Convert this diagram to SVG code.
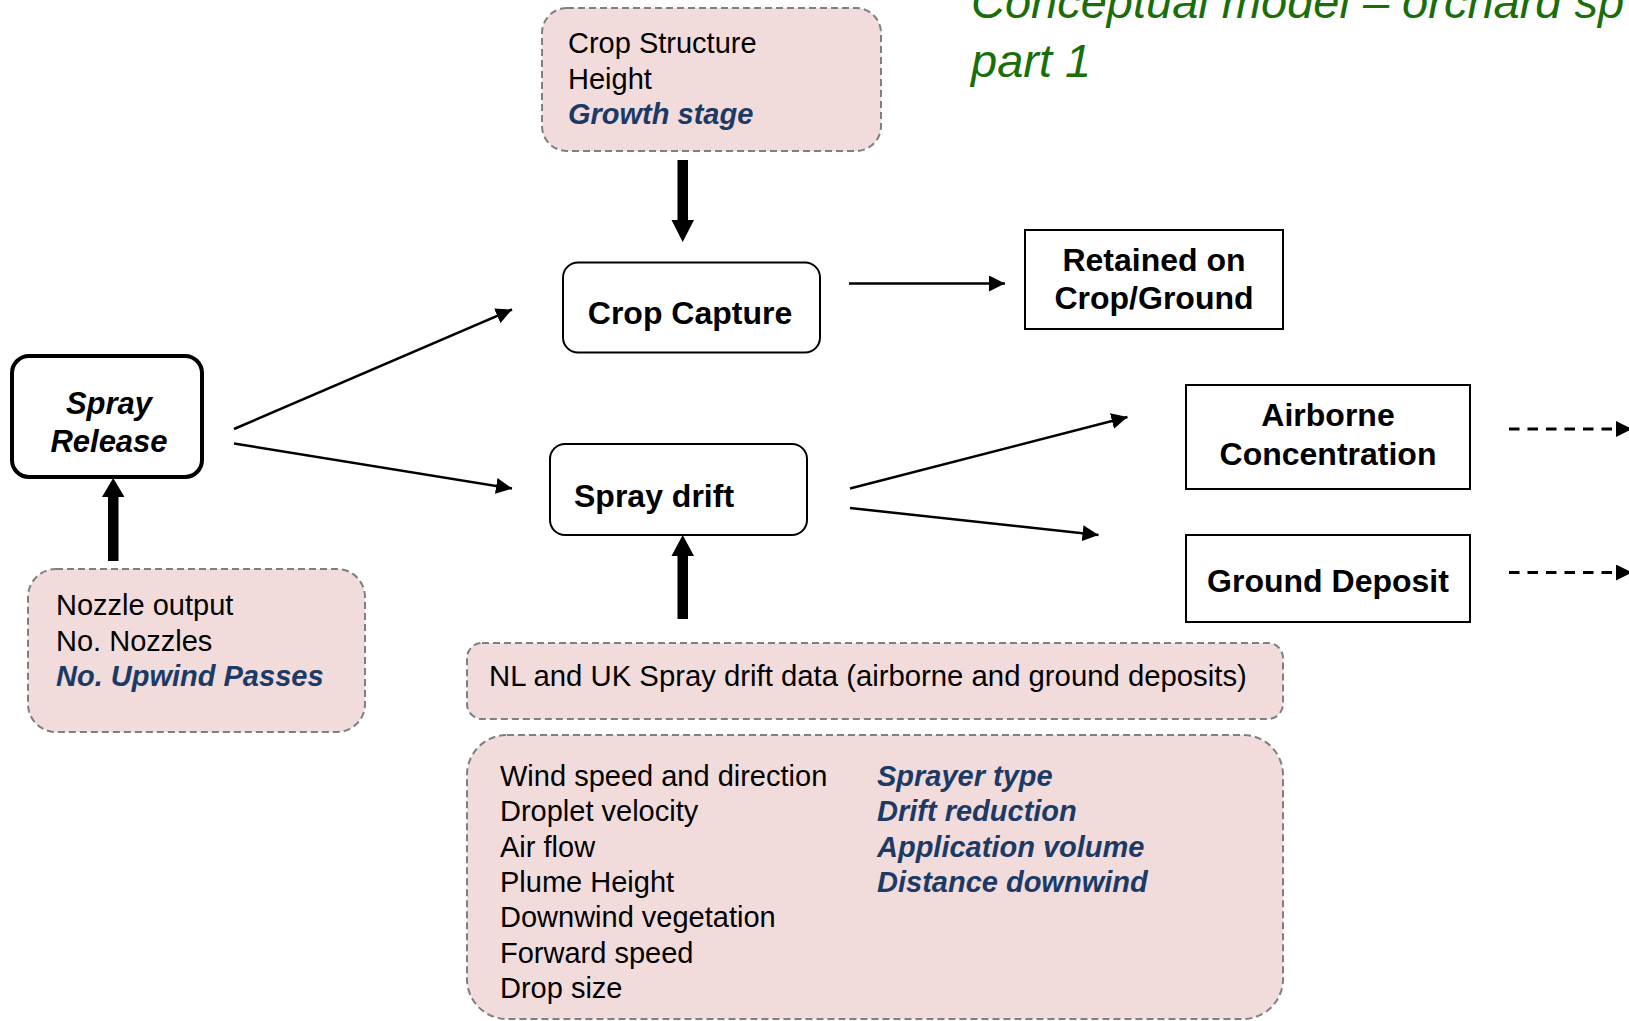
<svg xmlns="http://www.w3.org/2000/svg" width="1629" height="1021" viewBox="0 0 1629 1021">
<defs>
<style>
.t{font-family:"Liberation Sans",Arial,sans-serif;font-size:29px;fill:#000}
.bi{font-family:"Liberation Sans",Arial,sans-serif;font-size:29px;font-weight:bold;font-style:italic;fill:#1B3A66}
.nb{font-family:"Liberation Sans",Arial,sans-serif;font-size:32px;font-weight:bold;fill:#000}
.nbi{font-family:"Liberation Sans",Arial,sans-serif;font-size:31px;font-weight:bold;font-style:italic;fill:#000}
.title{font-family:"Liberation Sans",Arial,sans-serif;font-size:47px;font-style:italic;fill:#1A6E0A}
.pink{fill:#F2DCDB;stroke:#7F7F7F;stroke-width:2;stroke-dasharray:7 4}
.box{fill:#fff;stroke:#000;stroke-width:2}
.thin{stroke:#000;stroke-width:2.5;fill:none}
.dash{stroke:#000;stroke-width:3;fill:none;stroke-dasharray:10.5 8}
.thick{fill:#000}
</style>
<marker id="ah" viewBox="0 0 16 16" refX="16" refY="8" markerWidth="16" markerHeight="16" markerUnits="userSpaceOnUse" orient="auto">
<path d="M0,0 L16,8 L0,16 Z" fill="#000"/>
</marker>
</defs>
<rect width="1629" height="1021" fill="#fff"/>

<g id="title">
<text class="title" x="971" y="18">Conceptual model – orchard sp</text>
<text class="title" x="971" y="77">part 1</text>
</g>

<g id="crop-structure">
<rect class="pink" x="542" y="8" width="339" height="143" rx="25"/>
<text class="t" x="568" y="53">Crop Structure</text>
<text class="t" x="568" y="88.5">Height</text>
<text class="bi" x="568" y="124">Growth stage</text>
</g>

<g id="crop-capture">
<rect class="box" x="563" y="262.5" width="257" height="90" rx="15"/>
<text class="nb" x="690" y="324" text-anchor="middle">Crop Capture</text>
</g>

<g id="retained">
<rect class="box" x="1025" y="230" width="258" height="99"/>
<text class="nb" x="1154" y="270.5" text-anchor="middle">Retained on</text>
<text class="nb" x="1154" y="309" text-anchor="middle">Crop/Ground</text>
</g>

<g id="spray-release">
<rect x="12" y="356" width="190" height="121" rx="17" fill="#fff" stroke="#000" stroke-width="4"/>
<text class="nbi" x="109" y="413.5" text-anchor="middle">Spray</text>
<text class="nbi" x="109" y="451.5" text-anchor="middle">Release</text>
</g>

<g id="nozzle">
<rect class="pink" x="28" y="569" width="337" height="163" rx="28"/>
<text class="t" x="56" y="615">Nozzle output</text>
<text class="t" x="56" y="650.5">No. Nozzles</text>
<text class="bi" x="56" y="686">No. Upwind Passes</text>
</g>

<g id="spray-drift">
<rect class="box" x="550" y="444" width="257" height="91" rx="15"/>
<text class="nb" x="574" y="506.5">Spray drift</text>
</g>

<g id="airborne">
<rect class="box" x="1186" y="385" width="284" height="104"/>
<text class="nb" x="1328" y="425.5" text-anchor="middle">Airborne</text>
<text class="nb" x="1328" y="465" text-anchor="middle">Concentration</text>
</g>

<g id="ground-deposit">
<rect class="box" x="1186" y="535" width="284" height="87"/>
<text class="nb" x="1328" y="591.5" text-anchor="middle">Ground Deposit</text>
</g>

<g id="nl-uk-data">
<rect class="pink" x="467" y="643" width="816" height="76" rx="15"/>
<text class="t" x="489" y="686" style="font-size:29.3px">NL and UK Spray drift data (airborne and ground deposits)</text>
</g>

<g id="factors">
<rect class="pink" x="467" y="735" width="816" height="284" rx="40"/>
<text class="t" x="500" y="786">Wind speed and direction</text>
<text class="t" x="500" y="821">Droplet velocity</text>
<text class="t" x="500" y="856.5">Air flow</text>
<text class="t" x="500" y="892">Plume Height</text>
<text class="t" x="500" y="927">Downwind vegetation</text>
<text class="t" x="500" y="962.5">Forward speed</text>
<text class="t" x="500" y="997.5">Drop size</text>
<text class="bi" x="877" y="786">Sprayer type</text>
<text class="bi" x="877" y="821">Drift reduction</text>
<text class="bi" x="877" y="856.5">Application volume</text>
<text class="bi" x="877" y="891.5">Distance downwind</text>
</g>

<g id="connectors">
<line class="thin" x1="234" y1="429" x2="512" y2="309.5" marker-end="url(#ah)"/>
<line class="thin" x1="234" y1="443.5" x2="512" y2="488.5" marker-end="url(#ah)"/>
<line class="thin" x1="849" y1="283.5" x2="1005" y2="283.5" marker-end="url(#ah)"/>
<line class="thin" x1="850" y1="488.5" x2="1127.5" y2="417" marker-end="url(#ah)"/>
<line class="thin" x1="850" y1="508" x2="1098.5" y2="535" marker-end="url(#ah)"/>
<line class="dash" x1="1509" y1="429" x2="1632" y2="429" marker-end="url(#ah)"/>
<line class="dash" x1="1509" y1="572.5" x2="1632" y2="572.5" marker-end="url(#ah)"/>
<path class="thick" d="M677.5,160 H688 V220 H694 L682.7,242 L671.5,220 H677.5 Z"/>
<path class="thick" d="M108,561 H118.5 V497 H124.5 L113.2,478 L102,497 H108 Z"/>
<path class="thick" d="M677.5,619 H688 V556 H694 L682.7,535 L671.5,556 H677.5 Z"/>
</g>
</svg>
